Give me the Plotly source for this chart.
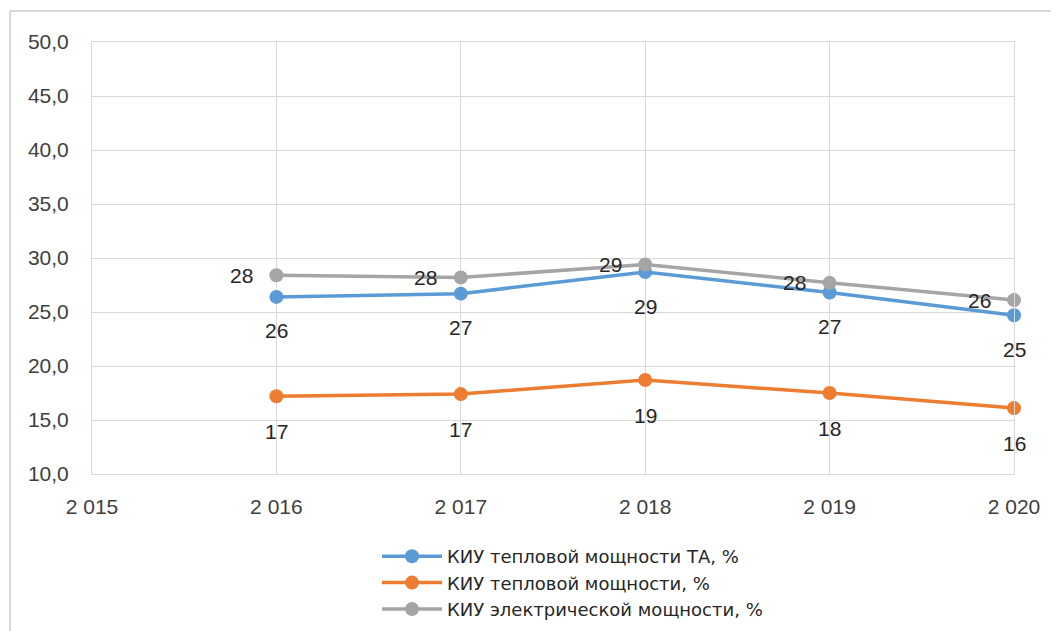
import plotly.graph_objects as go

years = [2016, 2017, 2018, 2019, 2020]
kiu_ta = [26.4, 26.7, 28.7, 26.8, 24.7]
kiu_heat = [17.2, 17.4, 18.7, 17.5, 16.1]
kiu_el = [28.4, 28.2, 29.4, 27.7, 26.1]

names = ["КИУ тепловой мощности ТА, %", "КИУ тепловой мощности, %", "КИУ электрической мощности, %"]
colors = ["#5b9bd5", "#ed7d31", "#a5a5a5"]
# label offsets (xshift, yshift) in pixels, Excel-like placement
offsets = [(0, -34), (0, -35), (-35, 0)]

OFF = 8  # page body margin
W, H = 1059, 631
L, R, T, B = 92 - OFF, 1059 - 1014 + OFF, 42 - OFF, 631 - 474 + OFF
pw, ph = W - L - R, H - T - B
FONT = "Liberation Sans"

fig = go.Figure()
for vals, name, col, (dx, dy) in zip([kiu_ta, kiu_heat, kiu_el], names, colors, offsets):
    fig.add_trace(go.Scatter(
        x=years, y=vals, name=name, mode="lines+markers",
        line=dict(color=col, width=3.5),
        marker=dict(color=col, size=14),
        cliponaxis=False,
    ))
    for xv, yv in zip(years, vals):
        fig.add_annotation(x=xv, y=yv, text=f"{yv:.0f}", showarrow=False,
                           xshift=dx, yshift=dy,
                           font=dict(size=21, color="#262626", family=FONT))

def px_x(p):
    return (p - OFF - L) / pw

def px_y(p):
    return (H - B - (p - OFF)) / ph

fig.add_shape(type="line", xref="paper", yref="paper", x0=px_x(10), x1=px_x(10),
              y0=px_y(11), y1=px_y(H + 10), line=dict(color="#d9d9d9", width=2))
fig.add_shape(type="line", xref="paper", yref="paper", x0=px_x(10), x1=px_x(W + 10),
              y0=px_y(11), y1=px_y(11), line=dict(color="#d9d9d9", width=2))

fig.update_layout(
    width=W, height=H,
    margin=dict(l=L, r=R, t=T, b=B, autoexpand=False),
    paper_bgcolor="white", plot_bgcolor="white",
    separators=", ",
    font=dict(family=FONT, size=21, color="#404040"),
    showlegend=True,
    legend=dict(x=px_x(377), y=px_y(538), xanchor="left", yanchor="top",
                font=dict(size=18, color="#262626", family="DejaVu Sans"),
                bgcolor="rgba(0,0,0,0)", tracegroupgap=0, itemwidth=60),
)
fig.update_xaxes(range=[2015, 2020], tickvals=[2015, 2016, 2017, 2018, 2019, 2020],
                 tickformat=",d", showgrid=True, gridcolor="#d9d9d9", gridwidth=1,
                 zeroline=False, showline=True, linecolor="#d9d9d9", linewidth=1,
                 mirror=True, ticks="", ticklabelstandoff=14)
fig.update_yaxes(range=[10, 50], dtick=5, tickformat=".1f",
                 showgrid=True, gridcolor="#d9d9d9", gridwidth=1,
                 zeroline=False, showline=True, linecolor="#d9d9d9", linewidth=1,
                 mirror=True, ticks="", ticklabelstandoff=18)

fig.write_html("out.html")
